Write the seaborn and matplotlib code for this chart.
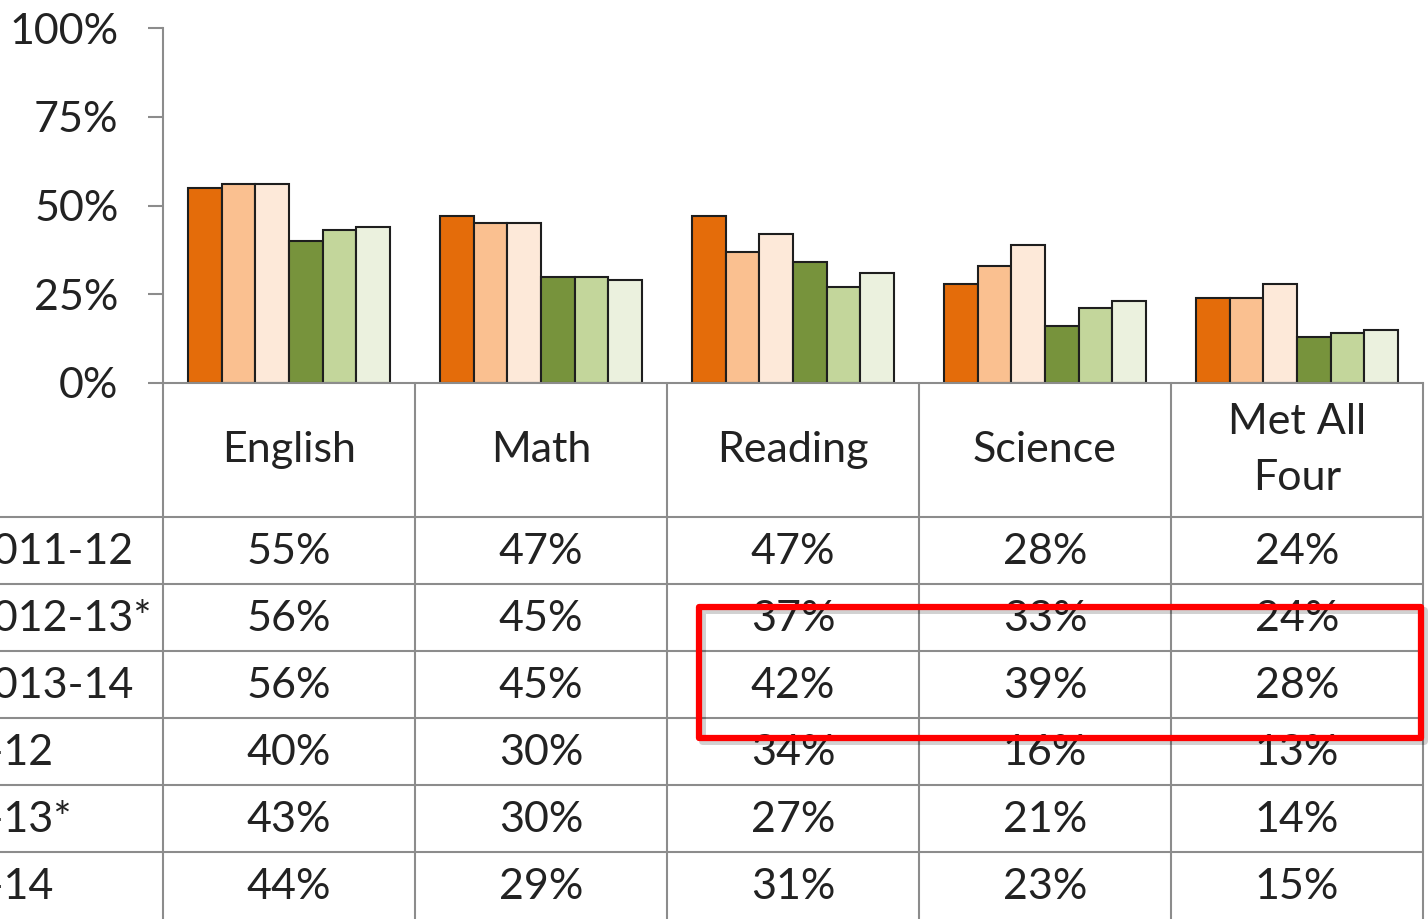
import numpy as np
import pandas as pd
import matplotlib.pyplot as plt
import seaborn as sns
from matplotlib.patches import Rectangle
from matplotlib.ticker import PercentFormatter

# chart data
subjects = ["English", "Math", "Reading", "Science", "Met All\nFour"]
series = ["S1 2011-12", "S1 2012-13*", "S1 2013-14", "S2 2011-12", "S2 2012-13*", "S2 2013-14"]
row_labels = ["2011-12", "2012-13*", "2013-14", "2011-12", "2012-13*", "2013-14"]
s1_2011 = [55, 47, 47, 28, 24]
s1_2012 = [56, 45, 37, 33, 24]
s1_2013 = [56, 45, 42, 39, 28]
s2_2011 = [40, 30, 34, 16, 13]
s2_2012 = [43, 30, 27, 21, 14]
s2_2013 = [44, 29, 31, 23, 15]
colors = ["#E46C0A", "#FAC090", "#FDE9D9", "#77933C", "#C3D69B", "#EBF1DE"]

values = [s1_2011, s1_2012, s1_2013, s2_2011, s2_2012, s2_2013]
df = pd.DataFrame({
    "subject": np.tile(subjects, len(series)),
    "series": np.repeat(series, len(subjects)),
    "value": np.concatenate(values),
})

sns.set_theme(style="white")
plt.rcParams["font.family"] = ["Lato", "DejaVu Sans"]
txt = "#222222"
grid = "#8c8c8c"

W, H = 1428, 919
fig = plt.figure(figsize=(W / 100, H / 100), dpi=100)

# bar chart area
ax = fig.add_axes([163 / W, (H - 383) / H, 1260 / W, 355 / H])
sns.barplot(data=df, x="subject", y="value", hue="series", palette=colors,
            saturation=1, edgecolor="#1e1e1e", linewidth=1.5, legend=False, ax=ax)
ax.set_ylim(0, 100)
ax.set_xlim(-0.5, len(subjects) - 0.5)
ax.set_yticks([0, 25, 50, 75, 100])
ax.yaxis.set_major_formatter(PercentFormatter(100, decimals=0))
ax.tick_params(axis="y", direction="out", length=11, width=1.5, color=grid,
               pad=21, labelsize=31, labelcolor=txt, left=True)
ax.set_xticks([])
ax.set_xlabel("")
ax.set_ylabel("")
for s in ["top", "right"]:
    ax.spines[s].set_visible(False)
for s in ["left", "bottom"]:
    ax.spines[s].set_color(grid)
    ax.spines[s].set_linewidth(1.5)

# data table below
n = len(subjects)
left_u = -0.5 - 163 / 252
right_u = n - 0.5 + (W - 1423) / 252
tab = fig.add_axes([0, 0, 1, (H - 383) / H])
tab.set_xlim(left_u, right_u)
tab.set_ylim(8, 0)
tab.axis("off")

for i in range(n + 1):
    tab.plot([i - 0.5, i - 0.5], [0, 8.2], color=grid, lw=1.5, clip_on=False)
for r in range(2, 8):
    tab.plot([left_u - 1, n - 0.5], [r, r], color=grid, lw=1.5, clip_on=False)

for i, name in enumerate(subjects):
    tab.text(i, 1.0, name, ha="center", va="center", fontsize=31, color=txt,
             linespacing=1.55)
    for r, vals in enumerate(values):
        tab.text(i, 2.52 + r, f"{vals[i]}%", ha="center", va="center",
                 fontsize=31, color=txt)

label_off = [-32, -32, -32, -112, -112, -112]
for r, lab in enumerate(row_labels):
    tab.text(left_u + label_off[r] / 252, 2.52 + r, lab, ha="left", va="center",
             fontsize=31, color=txt, clip_on=False)

# red highlight box with a soft shadow
bx, by, bw, bh = 1.627, 3.343, 4.492 - 1.627, 5.299 - 3.343
tab.add_patch(Rectangle((bx + 0.01, by + 0.04), bw, bh, fill=False,
                        edgecolor="#000000", alpha=0.18, lw=5, zorder=9,
                        joinstyle="round"))
tab.add_patch(Rectangle((bx, by), bw, bh, fill=False, edgecolor="#FF0000",
                        lw=4.5, zorder=10, joinstyle="round"))

fig.savefig("out.png", dpi=100)
